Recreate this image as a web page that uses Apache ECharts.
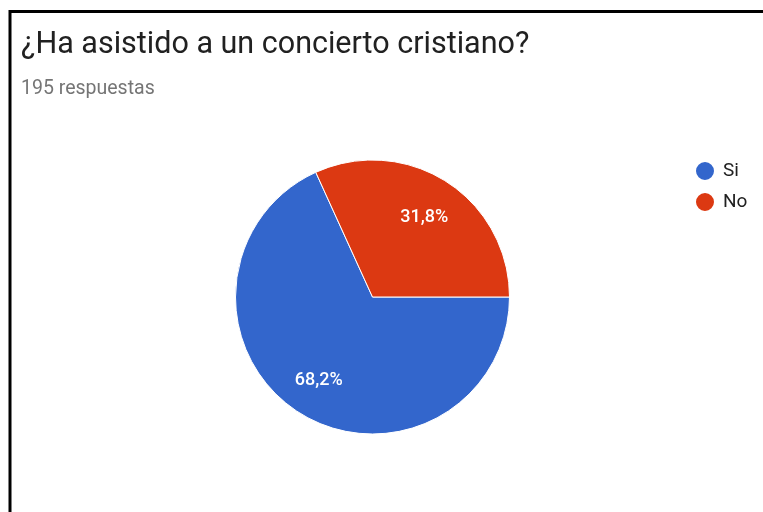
<!DOCTYPE html>
<html>
<head>
<meta charset="utf-8">
<script src="https://cdn.jsdelivr.net/npm/echarts@6/dist/echarts.min.js"></script>
<style>
  html, body { margin: 0; padding: 0; background: #fff; }
  #chart { width: 763px; height: 512px; }
</style>
</head>
<body>
<div id="chart"></div>
<script>
// Survey answers: "¿Ha asistido a un concierto cristiano?" (195 respuestas)
const categories = ['Si', 'No'];
const counts = [133, 62];
const colors = ['#3366CC', '#DC3912'];
const titleText = '¿Ha asistido a un concierto cristiano?';
const subtitleText = '195 respuestas';

const pieData = categories.map((name, i) => ({ name, value: counts[i] }));
const pct = (p) => p.toFixed(1).replace('.', ',') + '%';

const chart = echarts.init(document.getElementById('chart'), null, { renderer: 'canvas' });
chart.setOption({
  animation: false,
  color: colors,
  title: {
    text: titleText,
    subtext: subtitleText,
    left: 21,
    top: 30,
    padding: 0,
    itemGap: 18,
    textStyle: { fontFamily: 'Roboto', fontSize: 30.5, fontWeight: 'normal', color: '#212121' },
    subtextStyle: { fontFamily: 'Roboto', fontSize: 19.5, color: '#757575' }
  },
  legend: {
    orient: 'vertical',
    left: 694,
    top: 160,
    padding: 0,
    icon: 'circle',
    itemWidth: 20,
    itemHeight: 20,
    itemGap: 9,
    textStyle: { fontFamily: 'Roboto', fontSize: 19, lineHeight: 20, color: '#212121', padding: [0, 0, 0, 3] },
    data: categories
  },
  graphic: [{
    type: 'polyline',
    shape: { points: [[10, 512], [10, 11.5], [763, 11.5]] },
    style: { stroke: '#000', lineWidth: 3, fill: null }
  }],
  series: [
    {
      type: 'pie',
      center: [372.5, 297],
      radius: [0, 137],
      startAngle: 0,
      clockwise: true,
      label: { show: false },
      labelLine: { show: false },
      itemStyle: { borderColor: '#fff', borderWidth: 1 },
      emphasis: { disabled: true },
      data: pieData
    },
    {
      // transparent overlay ring that places the percentage labels at ~70% of the radius
      type: 'pie',
      center: [371.5, 299],
      radius: [52, 137],
      startAngle: 0,
      clockwise: true,
      silent: true,
      legendHoverLink: false,
      itemStyle: { color: 'rgba(0,0,0,0)' },
      label: {
        show: true,
        position: 'inside',
        formatter: (p) => pct(p.percent),
        fontFamily: 'Roboto',
        fontSize: 18,
        fontWeight: 500,
        color: '#fff'
      },
      labelLine: { show: false },
      emphasis: { disabled: true },
      data: pieData
    }
  ]
});
</script>
</body>
</html>
